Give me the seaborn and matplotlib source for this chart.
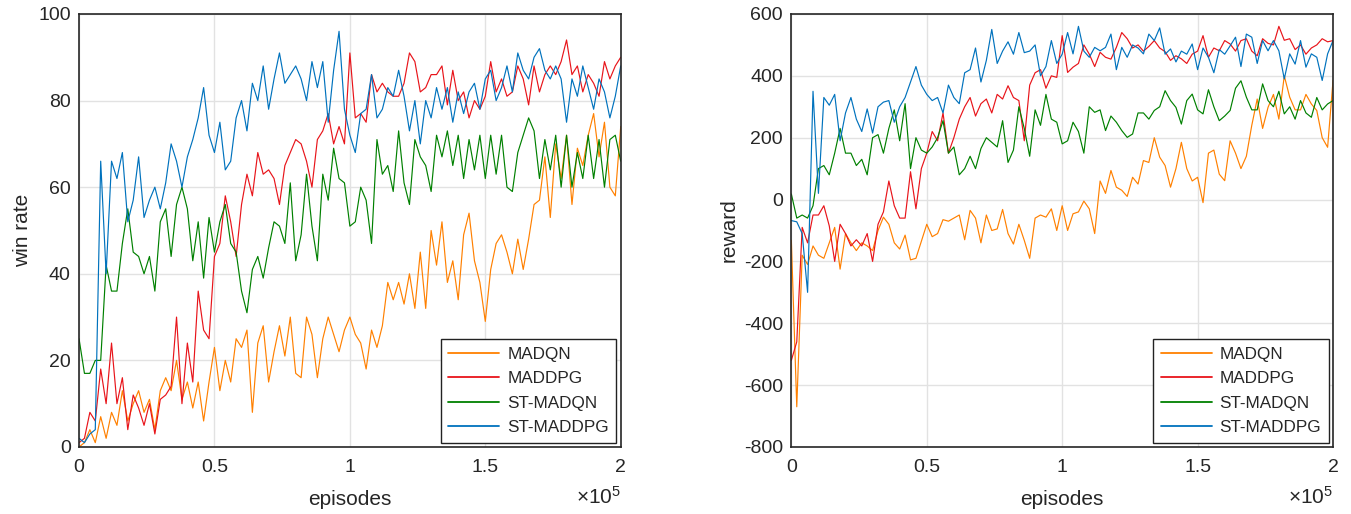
import numpy as np
import pandas as pd
import matplotlib
matplotlib.use("Agg")
import matplotlib.pyplot as plt
import seaborn as sns

# episodes, one sample every 2000
episodes = list(range(0, 200001, 2000))
methods = ["MADQN", "MADDPG", "ST-MADQN", "ST-MADDPG"]

# win rate (%)
win_madqn = [0, 1, 4, 1, 7, 2, 8, 5, 13, 6,
             10, 13, 8, 11, 4, 13, 16, 13, 20, 11,
             15, 9, 15, 6, 15, 23, 13, 20, 15, 25,
             23, 27, 8, 24,
             28, 15, 22, 28, 21, 30, 17, 16, 30, 26,
             16, 25, 30, 26, 22, 27, 30, 26, 24, 18,
             27, 23, 28, 38, 34, 38, 33, 40, 32, 45,
             32, 50, 42,
             52, 38, 43, 34, 49, 54, 43, 38, 29, 41,
             47, 49, 45, 40, 48, 41, 48, 56, 57, 67,
             53, 70, 62, 72, 56, 69, 65, 72, 77, 67,
             75, 60, 58, 74]
win_maddpg = [1, 2, 8, 6, 18, 10, 24, 10, 16, 4,
              12, 9, 5, 10, 3, 11, 12, 14, 30, 10,
              24, 15, 36, 27, 25, 44, 47, 58, 52, 44,
              56, 63, 58, 68,
              63, 64, 62, 56, 65, 68, 71, 70, 66, 60,
              71, 73, 77, 70, 74, 70, 91, 76, 77, 75,
              86, 82, 84, 82, 81, 81, 84, 91, 89, 82,
              83, 86, 86,
              88, 79, 87, 80, 82, 76, 80, 78, 81, 89,
              82, 85, 81, 82, 88, 85, 79, 88, 82, 86,
              88, 86, 89, 94, 86, 88, 82, 86, 84, 81,
              89, 85, 88, 90]
win_st_madqn = [25, 17, 17, 20, 20, 42, 36, 36, 47, 55,
                45, 44, 40, 44, 36, 52, 55, 44, 56, 60,
                55, 43, 52, 39, 53, 45, 52, 56, 47, 45,
                36, 31, 41, 44,
                39, 46, 52, 51, 47, 61, 43, 49, 63, 51,
                43, 63, 57, 69, 62, 61, 51, 52, 60, 57,
                47, 71, 63, 65, 59, 73, 61, 56, 71, 67,
                65, 59, 72,
                67, 73, 65, 72, 62, 71, 64, 72, 62, 72,
                63, 72, 60, 59, 68, 72, 76, 73, 62, 71,
                64, 72, 60, 72, 60, 68, 62, 72, 62, 71,
                60, 71, 72, 66]
win_st_maddpg = [2, 1, 3, 4, 66, 40, 66, 62, 68, 52,
                 57, 67, 53, 57, 60, 55, 61, 70, 66, 60,
                 67, 71, 76, 83, 72, 68, 75, 64, 66, 76,
                 80, 73, 84, 80,
                 88, 78, 85, 91, 84, 86, 88, 85, 80, 89,
                 83, 89, 75, 87, 96, 78, 72, 68, 77, 78,
                 86, 76, 78, 83, 81, 87, 81, 73, 80, 70,
                 80, 76, 83,
                 78, 83, 75, 82, 77, 82, 84, 78, 85, 87,
                 80, 83, 88, 82, 91, 87, 85, 90, 92, 87,
                 85, 88, 85, 75, 85, 81, 88, 83, 78, 85,
                 82, 76, 81, 88]

# reward
rew_madqn = [-132, -670, -180, -210, -150, -180, -190, -140, -90, -225,
             -110, -140, -165, -140, -150, -165, -100, -57, -80, -140,
             -160, -115, -195, -190, -135, -80, -120, -110, -65, -70,
             -60, -50, -130, -35,
             -60, -140, -50, -100, -95, -32, -110, -144, -80, -132,
             -190, -60, -50, -57, -30, -100, -20, -100, -46, -40,
             -5, -30, -110, 60, 20, 94, 40, 30, 10, 72,
             50, 126, 120,
             200, 137, 110, 40, 100, 185, 100, 60, 72, -10,
             150, 160, 82, 61, 190, 150, 100, 140, 240, 325,
             230, 298, 340, 260, 400, 331, 290, 290, 340, 309,
             288, 200, 169, 385]
rew_maddpg = [-520, -460, -90, -140, -50, -50, -20, -85, -200, -80,
              -110, -150, -130, -150, -110, -200, -80, -40, 60, -20,
              -60, -60, 90, -30, 100, 150, 220, 190, 280, 150,
              200, 260, 300, 330,
              270, 310, 325, 280, 340, 325, 368, 330, 320, 190,
              370, 410, 420, 360, 400, 395, 530, 411, 428, 440,
              500, 470, 430, 476, 460, 454, 492, 540, 520, 490,
              500, 480, 495,
              514, 490, 478, 450, 465, 455, 440, 470, 480, 530,
              460, 490, 481, 514, 503, 480, 514, 520, 480, 465,
              520, 505, 500, 560, 515, 520, 485, 500, 470, 490,
              500, 520, 510, 514]
rew_st_madqn = [18, -60, -50, -60, -20, 100, 110, 80, 150, 230,
                150, 150, 110, 130, 80, 200, 210, 150, 230, 290,
                190, 310, 100, 200, 160, 150, 170, 200, 255, 150,
                170, 80, 100, 140,
                100, 165, 200, 185, 170, 255, 120, 160, 300, 230,
                140, 290, 240, 340, 260, 250, 180, 190, 250, 220,
                150, 300, 282, 290, 223, 270, 250, 223, 201, 212,
                280, 280, 260,
                288, 300, 352, 320, 298, 244, 320, 341, 290, 277,
                355, 300, 255, 270, 288, 360, 384, 331, 290, 290,
                374, 320, 300, 350, 277, 300, 260, 320, 280, 266,
                330, 290, 309, 320]
rew_st_maddpg = [-68, -72, -110, -300, 350, 20, 330, 305, 340, 190,
                 280, 330, 260, 220, 293, 215, 300, 315, 320, 250,
                 300, 330, 380, 430, 370, 340, 320, 330, 280, 370,
                 330, 310, 410, 420,
                 490, 380, 450, 550, 440, 480, 510, 470, 540, 475,
                 480, 500, 400, 430, 514, 440, 470, 540, 471, 560,
                 480, 460, 492, 481, 492, 535, 420, 492, 460, 500,
                 490, 471, 535,
                 514, 555, 470, 487, 445, 480, 470, 503, 420, 490,
                 460, 410, 485, 470, 497, 525, 430, 535, 525, 440,
                 514, 481, 514, 481, 390, 471, 438, 514, 428, 471,
                 460, 385, 471, 514]

x_ticks = [0, 50000, 100000, 150000, 200000]
x_tick_labels = ["0", "0.5", "1", "1.5", "2"]

palette = {"MADQN": "#FF8000", "MADDPG": "#E8141A",
           "ST-MADQN": "#008000", "ST-MADDPG": "#0072BD"}


def long_frame(series):
    parts = []
    for name, vals in zip(methods, series):
        parts.append(pd.DataFrame({"episode": episodes, "value": vals, "method": name}))
    return pd.concat(parts, ignore_index=True)


win_df = long_frame([win_madqn, win_maddpg, win_st_madqn, win_st_maddpg])
rew_df = long_frame([rew_madqn, rew_maddpg, rew_st_madqn, rew_st_maddpg])

sns.set_theme(style="whitegrid")
plt.rcParams["font.family"] = ["Liberation Sans", "DejaVu Sans"]
plt.rcParams["mathtext.default"] = "regular"
plt.rcParams["axes.unicode_minus"] = False

fig, axes = plt.subplots(1, 2, figsize=(13.51, 5.14), dpi=100)
fig.subplots_adjust(left=0.0585, right=0.9867, bottom=0.1304, top=0.9728, wspace=0.315)

panels = [(axes[0], win_df, "win rate", (0, 100), range(0, 101, 20)),
          (axes[1], rew_df, "reward", (-800, 600), range(-800, 601, 200))]

for ax, df, ylab, ylim, yticks in panels:
    sns.lineplot(data=df, x="episode", y="value", hue="method", hue_order=methods,
                 palette=palette, linewidth=0.85, ax=ax)
    ax.set_xlim(0, 200000)
    ax.set_ylim(*ylim)
    ax.set_xticks(x_ticks)
    ax.set_xticklabels(x_tick_labels)
    ax.set_yticks(list(yticks))
    ax.set_xlabel("episodes", fontsize=15, color="#262626", labelpad=10)
    ax.set_ylabel(ylab, fontsize=15, color="#262626", labelpad=4)
    ax.tick_params(axis="both", length=0, labelsize=14, colors="#262626")
    ax.tick_params(axis="x", pad=8.5)
    ax.tick_params(axis="y", pad=6)
    ax.grid(True, color="#e2e2e2", linewidth=1.0)
    for sp in ax.spines.values():
        sp.set_color("#262626")
        sp.set_linewidth(1.2)
    ax.text(1.0, -0.09, r"$\times10^{5}$", transform=ax.transAxes,
            ha="right", va="top", fontsize=15, color="#262626")
    leg = ax.legend(loc="lower right", fontsize=12.3, frameon=True, fancybox=False,
                    edgecolor="#222222", framealpha=1, handlelength=3.0,
                    handletextpad=0.45, borderaxespad=0.25, labelspacing=0.55,
                    borderpad=0.45, title=None)
    leg.get_frame().set_linewidth(1.0)
    for ln in leg.get_lines():
        ln.set_linewidth(1.3)

fig.savefig("out.png", dpi=100)
